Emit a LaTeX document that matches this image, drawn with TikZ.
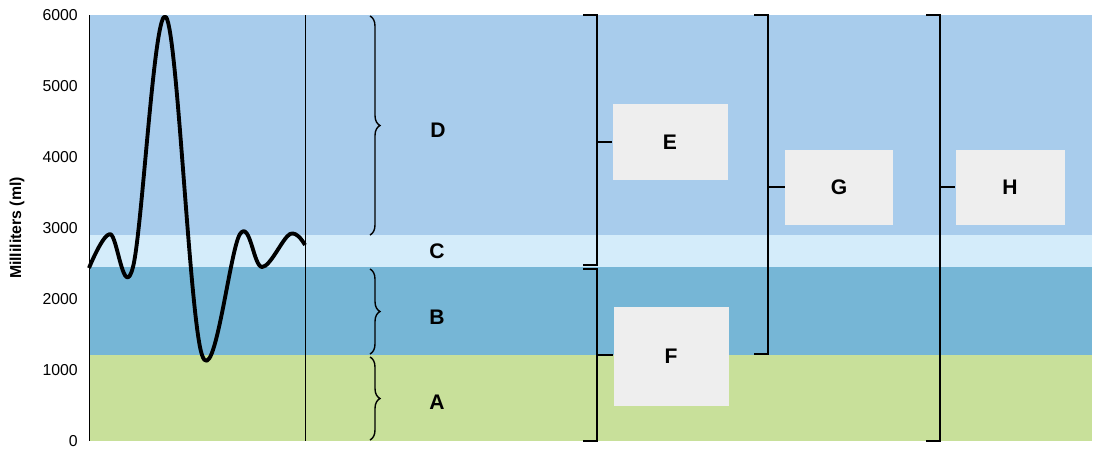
\documentclass[tikz,border=0pt]{standalone}
\usepackage{fontspec}
\setmainfont{Liberation Sans}
\usetikzlibrary{decorations.pathreplacing}
\definecolor{volblue}{RGB}{168,204,236}
\definecolor{volpale}{RGB}{212,236,250}
\definecolor{voldark}{RGB}{118,182,214}
\definecolor{volgreen}{RGB}{200,224,154}
\definecolor{boxgray}{RGB}{238,238,238}
\tikzset{
  lettr/.style={font=\bfseries\large},
  capbox/.style={fill=boxgray,minimum width=0.02cm*115,minimum height=0.02cm*76,font=\bfseries\large},
  brc/.style={thick,decorate,decoration={brace,amplitude=0.2cm}},
  brk/.style={thick},
  tick/.style={anchor=east,font=\small}
}
\begin{document}
\begin{tikzpicture}[x=0.02cm,y=-0.02cm]
      \useasboundingbox (0,0) rectangle (1100,458);
      % bands
      \fill[volgreen] (89,355) rectangle (1092,441);
      \fill[voldark] (89,267) rectangle (1092,355);
      \fill[volpale] (89,235) rectangle (1092,267);
      \fill[volblue] (89,15) rectangle (1092,235);
      \draw (89,15) -- (89,441);
      \draw (305,15) -- (305,441);
      % axis
      \foreach \v [evaluate=\v as \yy using 441-0.071*\v] in {0,1000,...,6000}
        \node[tick] (t\v) at (84,\yy) {\v};
      \node[rotate=90,font=\bfseries\small] (ylab) at (17,228) {Milliliters (ml)};
      % trace
      \draw[line width=2.2pt,line join=round] plot[smooth,tension=0.6] coordinates
        {(89,268) (110,234) (133,267) (166,17) (202,355) (240,234) (262,267) (290,234) (305,245)};
      % braces
      \draw[brc] (370,16) -- (370,235);
      \draw[brc] (370,269) -- (370,354);
      \draw[brc] (370,357) -- (370,440);
      \node[lettr] (D) at (438,130) {D};
      \node[lettr] (C) at (437,251) {C};
      \node[lettr] (B) at (437,317) {B};
      \node[lettr] (A) at (437,402) {A};
      % boxes
      \node[capbox] (E) at (670,142) {E};
      \node[capbox,minimum height=0.02cm*99] (F) at (671,356) {F};
      \node[capbox,minimum width=0.02cm*108,minimum height=0.02cm*75] (G) at (839,187) {G};
      \node[capbox,minimum width=0.02cm*109,minimum height=0.02cm*75] (H) at (1010,187) {H};
      % brackets
      \draw[brk] (583,15) -- (597,15) -- (597,265) -- (583,265);
      \draw[brk] (597,142) -- (E.west);
      \draw[brk] (583,269) -- (597,269) -- (597,441) -- (583,441);
      \draw[brk] (597,355) -- (F.west |- 0,355);
      \draw[brk] (754,15) -- (768,15) -- (768,354) -- (754,354);
      \draw[brk] (768,187) -- (G.west);
      \draw[brk] (926,15) -- (940,15) -- (940,441) -- (926,441);
      \draw[brk] (940,187) -- (H.west);
\end{tikzpicture}
\end{document}
